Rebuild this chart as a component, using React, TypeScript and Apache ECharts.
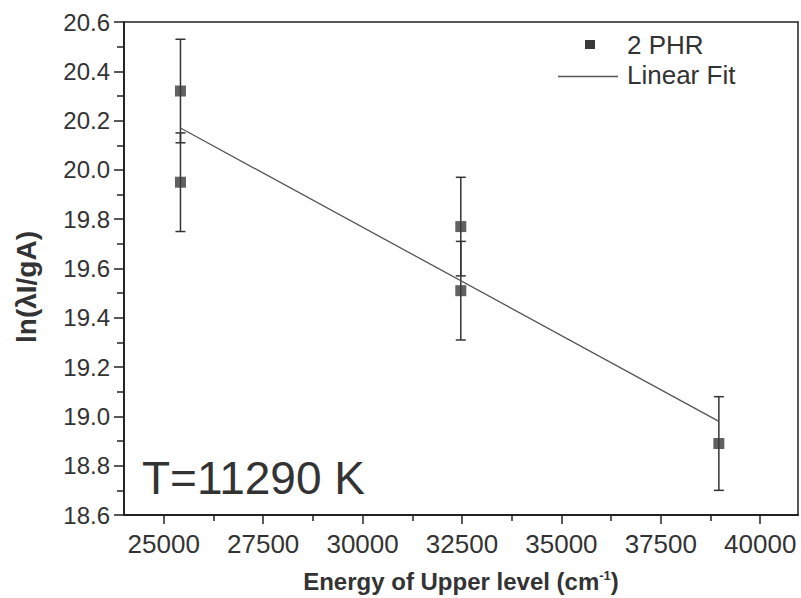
import React, { useEffect, useRef } from "react";
import * as echarts from "echarts";

const energies = [25420, 25420, 32470, 32470, 38960];
const lnValues = [20.32, 19.95, 19.77, 19.51, 18.89];
const lnErrors = [0.21, 0.2, 0.2, 0.2, 0.19];
const fitX = [25420, 38960];
const fitY = [20.17, 18.98];
const xMajorTicks = [25000, 27500, 30000, 32500, 35000, 37500, 40000];
const xMinorTicks = [26250, 28750, 31250, 33750, 36250, 38750];
const seriesName = "2 PHR";
const fitName = "Linear Fit";
const tempLabel = "T=11290 K";

const FONT = "'Liberation Sans', Arial, Helvetica, sans-serif";
const TXT = "#333";
const AX = "#222";

export default function App() {
  const ref = useRef<HTMLDivElement>(null);
  useEffect(() => {
    if (!ref.current) return;
    const chart = echarts.init(ref.current, null, { renderer: "svg" });
    const errData = energies.map((x, i) => [x, lnValues[i] - lnErrors[i], lnValues[i] + lnErrors[i]]);
    const pts = energies.map((x, i) => [x, lnValues[i]]);
    const fit = fitX.map((x, i) => [x, fitY[i]]);
    chart.setOption({
      animation: false,
      backgroundColor: "#ffffff",
      grid: {
        left: 124,
        right: 3,
        top: 22,
        bottom: 80,
        show: true,
        borderColor: AX,
        borderWidth: 1.5,
        backgroundColor: "transparent",
      },
      xAxis: [
        {
          type: "value",
          min: 24000,
          max: 40950,
          position: "bottom",
          splitLine: { show: false },
          axisLine: { show: true, onZero: false, lineStyle: { color: AX, width: 1.8 } },
          axisTick: { show: true, inside: false, length: 9, customValues: xMajorTicks, lineStyle: { color: AX, width: 1.5 } },
          axisLabel: {
            show: true,
            customValues: xMajorTicks,
            margin: 16,
            fontSize: 26,
            fontFamily: FONT,
            color: TXT,
            formatter: (v: number) => String(v),
          },
          name: "{b|Energy of Upper level (cm}{s|-1}{b|)}",
          nameLocation: "middle",
          nameGap: 54,
          nameTextStyle: {
            rich: {
              b: { fontSize: 24, fontWeight: "bold", fontFamily: FONT, color: TXT, lineHeight: 24 },
              s: { fontSize: 13, fontWeight: "bold", fontFamily: FONT, color: TXT, lineHeight: 13, verticalAlign: "top" },
            },
          },
        },
        {
          type: "value",
          min: 24000,
          max: 40950,
          position: "bottom",
          splitLine: { show: false },
          axisLine: { show: false },
          axisTick: { show: true, inside: false, length: 6, customValues: xMinorTicks, lineStyle: { color: AX, width: 1.5 } },
          axisLabel: { show: false },
        },
      ],
      yAxis: {
        type: "value",
        min: 18.6,
        max: 20.6,
        interval: 0.2,
        splitLine: { show: false },
        axisLine: { show: true, onZero: false, lineStyle: { color: AX, width: 1.8 } },
        axisTick: { show: true, inside: false, length: 10, lineStyle: { color: AX, width: 1.5 } },
        minorTick: { show: true, splitNumber: 2, length: 7, lineStyle: { color: AX, width: 1.5 } },
        axisLabel: {
          margin: 14,
          fontSize: 24,
          fontFamily: FONT,
          color: TXT,
          formatter: (v: number) => v.toFixed(1),
        },
      },
      graphic: [
        {
          type: "text",
          x: 26,
          y: 287,
          rotation: Math.PI / 2,
          style: {
            text: "ln(λI/gA)",
            font: `bold 28px ${FONT}`,
            fill: TXT,
            align: "center",
            verticalAlign: "middle",
          },
        },
        {
          type: "text",
          x: 142,
          y: 478,
          style: {
            text: tempLabel,
            font: `46px ${FONT}`,
            fill: TXT,
            align: "left",
            verticalAlign: "middle",
          },
        },
        {
          type: "rect",
          shape: { x: 585, y: 40, width: 10, height: 9 },
          style: { fill: "#3a3a3a" },
        },
        {
          type: "line",
          shape: { x1: 558, y1: 76.5, x2: 618, y2: 76.5 },
          style: { stroke: "#555", lineWidth: 1.5 },
        },
        {
          type: "text",
          x: 627,
          y: 45,
          style: { text: seriesName, font: `26px ${FONT}`, fill: TXT, align: "left", verticalAlign: "middle" },
        },
        {
          type: "text",
          x: 627,
          y: 75,
          style: { text: fitName, font: `26px ${FONT}`, fill: TXT, align: "left", verticalAlign: "middle" },
        },
      ],
      series: [
        {
          type: "custom",
          name: "error",
          xAxisIndex: 0,
          data: errData,
          encode: { x: 0, y: [1, 2] },
          z: 2,
          renderItem: (params: any, api: any) => {
            const x = api.value(0);
            const lo = api.coord([x, api.value(1)]);
            const hi = api.coord([x, api.value(2)]);
            const w = 5;
            const style = { stroke: "#333", lineWidth: 1.5, fill: "none" };
            return {
              type: "group",
              children: [
                { type: "line", shape: { x1: lo[0], y1: lo[1], x2: hi[0], y2: hi[1] }, style },
                { type: "line", shape: { x1: lo[0] - w, y1: lo[1], x2: lo[0] + w, y2: lo[1] }, style },
                { type: "line", shape: { x1: hi[0] - w, y1: hi[1], x2: hi[0] + w, y2: hi[1] }, style },
              ],
            };
          },
        },
        {
          type: "line",
          name: fitName,
          xAxisIndex: 0,
          data: fit,
          showSymbol: false,
          symbol: "none",
          z: 3,
          lineStyle: { color: "#555", width: 1.3 },
        },
        {
          type: "scatter",
          name: seriesName,
          xAxisIndex: 0,
          data: pts,
          symbol: "rect",
          symbolSize: 11,
          z: 4,
          itemStyle: { color: "#3a3a3a" },
        },
      ],
    });
    return () => chart.dispose();
  }, []);
  return (
    <div
      ref={ref}
      style={{ position: "fixed", left: 0, top: 0, width: 801, height: 598, background: "#fff" }}
    />
  );
}
